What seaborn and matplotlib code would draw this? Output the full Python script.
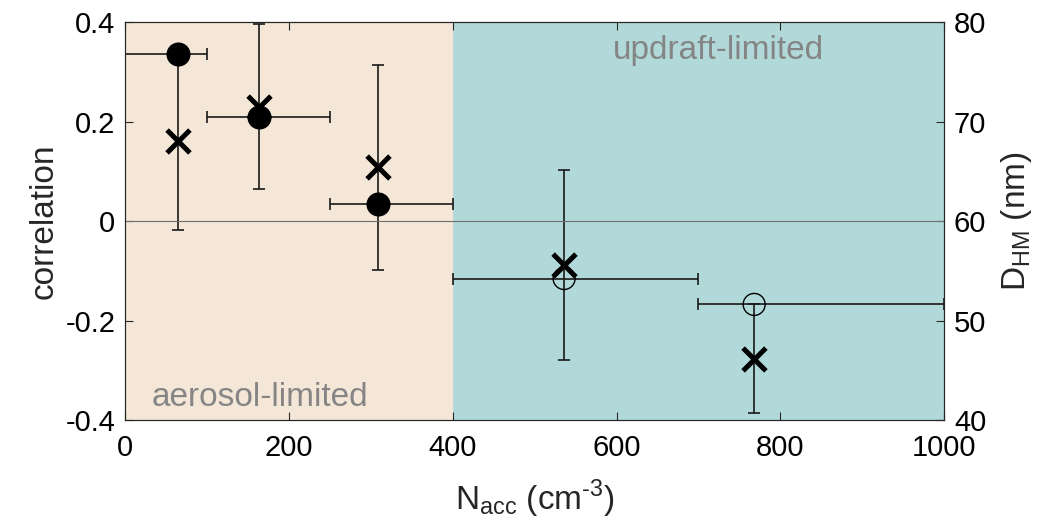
import numpy as np
import pandas as pd
import matplotlib
matplotlib.use("Agg")
import matplotlib.pyplot as plt
import seaborn as sns

# ---- data ----
n_acc_mean = [65, 164, 309, 536, 768]
bin_lo = [0, 100, 250, 400, 700]
bin_hi = [100, 250, 400, 700, 1000]
correlation = [0.335, 0.209, 0.035, -0.115, -0.167]
significant = [True, True, True, False, False]
d_hm = [68.1, 71.5, 65.4, 55.6, 46.2]
d_hm_err = [9.0, 8.3, 10.3, 9.5, 5.45]
regimes = ["aerosol-limited", "updraft-limited"]
regime_lo = [0, 400]
regime_hi = [400, 1000]
regime_colors = ["#F4E7D8", "#B2D9D9"]
x_ticks = [0, 200, 400, 600, 800, 1000]
corr_ticks = [-0.4, -0.2, 0, 0.2, 0.4]
corr_tick_labels = ["-0.4", "-0.2", "0", "0.2", "0.4"]
dhm_ticks = [40, 50, 60, 70, 80]

df = pd.DataFrame({
    "n_acc": n_acc_mean, "lo": bin_lo, "hi": bin_hi,
    "corr": correlation, "sig": significant,
    "dhm": d_hm, "dhm_err": d_hm_err,
})

sns.set_theme(style="ticks")
plt.rcParams["font.family"] = ["Liberation Sans", "DejaVu Sans"]
plt.rcParams["axes.unicode_minus"] = False
plt.rcParams["mathtext.fontset"] = "custom"
plt.rcParams["mathtext.rm"] = "Liberation Sans"

FS_TICK = 21
FS_LAB = 24
FS_REG = 24
ink = "#262626"

fig = plt.figure(figsize=(10.53, 5.23), dpi=100)
ax1 = fig.add_axes([0.1187, 0.196, 0.778, 0.762])
ax2 = ax1.twinx()
# circles (ax1) drawn above X markers (ax2)
ax1.set_zorder(ax2.get_zorder() + 1)
ax1.patch.set_visible(False)

# regime background on the lower axes
for lo, hi, c in zip(regime_lo, regime_hi, regime_colors):
    ax2.axvspan(lo, hi, color=c, lw=0, zorder=0)

# D_HM: crosses with vertical error bars
ax2.errorbar(df["n_acc"], df["dhm"], yerr=df["dhm_err"], fmt="none",
             ecolor="#1a1a1a", elinewidth=1.2, capsize=4, capthick=1.2, zorder=2)
sns.scatterplot(data=df, x="n_acc", y="dhm", ax=ax2, marker="x", s=270,
                color="black", linewidth=3.6, zorder=3, legend=False)

# correlation: circles with horizontal bin bars
ax1.axhline(0, color="#6e6e6e", lw=0.8, zorder=1)
xerr = np.vstack([df["n_acc"] - df["lo"], df["hi"] - df["n_acc"]])
ax1.errorbar(df["n_acc"], df["corr"], xerr=xerr, fmt="none",
             ecolor="#1a1a1a", elinewidth=1.2, capsize=4, capthick=1.2, zorder=2)
sig = df[df["sig"]]
nsig = df[~df["sig"]]
sns.scatterplot(data=sig, x="n_acc", y="corr", ax=ax1, marker="o", s=300,
                color="black", edgecolor="black", linewidth=0, zorder=4, legend=False)
sns.scatterplot(data=nsig, x="n_acc", y="corr", ax=ax1, marker="o", s=250,
                facecolor="none", edgecolor="black", linewidth=1.0, zorder=4, legend=False)

# regime labels
ax1.text(165, -0.353, regimes[0], ha="center", va="center",
         fontsize=FS_REG, color="#858585")
ax1.text(724, 0.343, regimes[1], ha="center", va="center",
         fontsize=FS_REG, color="#858585")

ax1.set_xlim(0, 1000)
ax1.set_ylim(-0.4, 0.4)
ax2.set_ylim(40, 80)
ax1.set_xticks(x_ticks)
ax1.set_xticklabels([str(t) for t in x_ticks])
ax1.set_yticks(corr_ticks)
ax1.set_yticklabels(corr_tick_labels)
ax2.set_yticks(dhm_ticks)

ax1.tick_params(direction="in", top=True, right=False, length=6, width=0.8,
                labelsize=FS_TICK, colors=ink, labelcolor="black")
ax1.tick_params(axis="x", pad=10)
ax1.tick_params(axis="y", pad=7)
ax2.tick_params(direction="in", length=6, width=0.8, labelsize=FS_TICK,
                colors=ink, labelcolor="black", pad=7)
for ax in (ax1, ax2):
    for s in ax.spines.values():
        s.set_visible(True)
        s.set_color(ink)
        s.set_linewidth(0.8)

ax1.set_xlabel(r"$\mathregular{N_{acc}}$ (cm$^{\mathregular{\text{-}3}}$)",
               fontsize=FS_LAB, labelpad=11)
ax1.set_ylabel("correlation", fontsize=FS_LAB, labelpad=4)
ax2.set_ylabel(r"$\mathregular{D_{HM}}$ (nm)", fontsize=FS_LAB, labelpad=9)

fig.savefig("out.png", dpi=100)
